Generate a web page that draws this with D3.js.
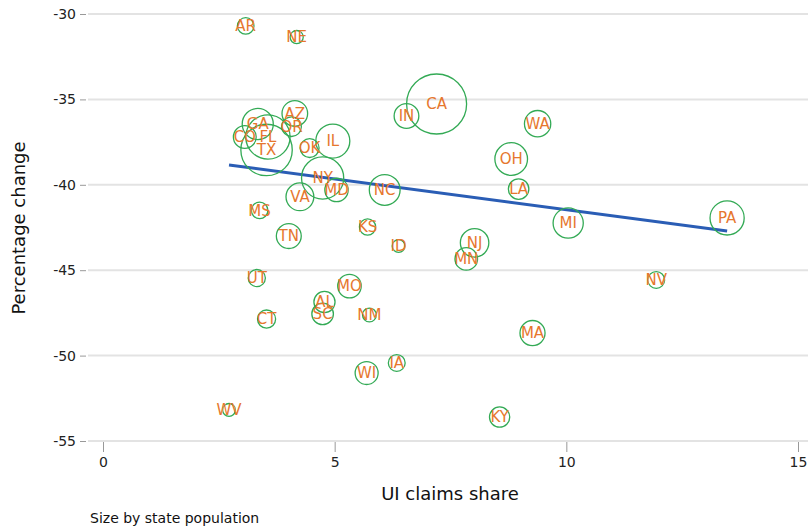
<!DOCTYPE html>
<html><head><meta charset="utf-8">
<script src="https://cdn.jsdelivr.net/npm/d3@7"></script>
<style>body{margin:0;background:#fff}svg{display:block}text{font-family:"DejaVu Sans",sans-serif}</style>
</head><body><svg id="c" width="808" height="529"></svg>
<script>
const states = ["AR","NE","CA","IN","WA","AZ","OR","GA","CO","FL","TX","OK","IL","NY","MD","VA","NC","MS","TN","KS","ID","UT","MO","AL","SC","NM","CT","OH","LA","MI","NJ","MN","PA","NV","MA","IA","WI","KY","WV"];
const claimsShare = [3.08,4.18,7.20,6.55,9.38,4.14,4.07,3.34,3.06,3.56,3.53,4.46,4.96,4.74,5.04,4.25,6.08,3.38,4.01,5.71,6.38,3.32,5.32,4.78,4.74,5.75,3.53,8.81,8.97,10.04,8.02,7.84,13.47,11.94,9.27,6.34,5.69,8.56,2.72];
const pctChange = [-30.70,-31.35,-35.27,-35.97,-36.42,-35.82,-36.60,-36.44,-37.20,-37.20,-37.96,-37.85,-37.44,-39.60,-40.30,-40.70,-40.30,-41.50,-43.00,-42.47,-43.58,-45.46,-45.93,-46.86,-47.56,-47.62,-47.86,-38.49,-40.25,-42.24,-43.40,-44.34,-41.94,-45.57,-48.68,-50.43,-51.02,-53.60,-53.18];
const population = [3.0,1.9,39.5,6.7,7.6,7.2,4.2,10.6,5.7,21.5,29.0,3.9,12.7,19.5,6.0,8.5,10.4,3.0,6.8,2.9,1.8,3.2,6.1,4.9,5.1,2.1,3.6,11.7,4.6,10.0,8.9,5.6,12.8,3.1,6.9,3.1,5.8,4.5,1.8];
const trendX = [2.72, 13.47];
const trendY = [-38.84, -42.70];
const xTicks = [0,5,10,15];
const yTicks = [-30,-35,-40,-45,-50,-55];

const svg = d3.select("#c");
const x = d3.scaleLinear().domain([0,15]).range([103,798]);
const y = d3.scaleLinear().domain([-55,-30]).range([441,14]);
const r = d3.scaleSqrt().domain([0,39.5]).range([0,30]);

// gridlines
svg.append("g").selectAll("line").data(yTicks).join("line")
  .attr("x1",88).attr("x2",808).attr("y1",d=>y(d)).attr("y2",d=>y(d))
  .attr("stroke","#e3e3e3").attr("stroke-width",2);
// y axis ticks
const yAxis = d3.axisLeft(y).tickValues(yTicks).tickSize(6).tickPadding(4).tickFormat(d=>d);
const gy = svg.append("g").attr("transform","translate(86,0)").call(yAxis);
gy.select(".domain").remove();
gy.selectAll(".tick line").attr("stroke","#999");
gy.selectAll(".tick text").attr("font-size",14).attr("fill","#222").attr("font-family","DejaVu Sans, sans-serif");
// x axis
const xAxis = d3.axisBottom(x).tickValues(xTicks).tickSize(10).tickPadding(5).tickFormat(d=>d);
const gx = svg.append("g").attr("transform","translate(0,442)").call(xAxis);
gx.select(".domain").remove();
gx.selectAll(".tick line").attr("stroke","#999");
gx.selectAll(".tick text").attr("font-size",14).attr("fill","#222").attr("font-family","DejaVu Sans, sans-serif");

// trend line
svg.append("line")
  .attr("x1",x(trendX[0])).attr("y1",y(trendY[0]))
  .attr("x2",x(trendX[1])).attr("y2",y(trendY[1]))
  .attr("stroke","#2a5db5").attr("stroke-width",3);

const data = states.map((s,i)=>({s, x:claimsShare[i], y:pctChange[i], p:population[i]}));
svg.append("g").selectAll("circle").data(data).join("circle")
  .attr("cx",d=>x(d.x)).attr("cy",d=>y(d.y)).attr("r",d=>r(d.p))
  .attr("fill","none").attr("stroke","#33aa55").attr("stroke-width",1.3);
svg.append("g").selectAll("text").data(data).join("text")
  .attr("x",d=>x(d.x)).attr("y",d=>y(d.y)).attr("dy","0.36em")
  .attr("text-anchor","middle").attr("font-size",15).attr("fill","#e6772e")
  .text(d=>d.s);

svg.append("text").attr("x",450).attr("y",500).attr("text-anchor","middle")
  .attr("font-size",18).attr("fill","#111").text("UI claims share");
svg.append("text").attr("transform","translate(25,228) rotate(-90)").attr("text-anchor","middle")
  .attr("font-size",18).attr("fill","#111").text("Percentage change");
svg.append("text").attr("x",90).attr("y",523).attr("font-size",14).attr("fill","#111").text("Size by state population");
</script></body></html>
